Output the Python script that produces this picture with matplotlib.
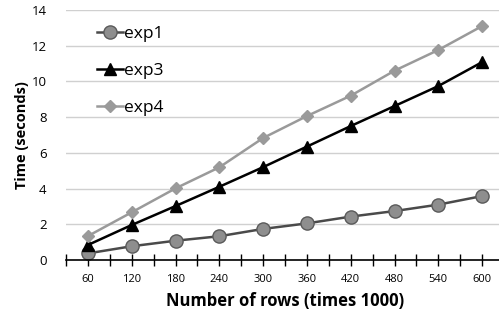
import numpy as np
import matplotlib.pyplot as plt

plt.rcParams['font.family'] = ['Open Sans', 'DejaVu Sans']

rows = ['60', '120', '180', '240', '300', '360', '420', '480', '540', '600']
exp1 = [0.37, 0.77, 1.08, 1.33, 1.74, 2.05, 2.43, 2.74, 3.1, 3.58]
exp3 = [0.84, 1.96, 3.02, 4.1, 5.2, 6.35, 7.5, 8.62, 9.74, 11.08]
exp4 = [1.34, 2.67, 4.01, 5.19, 6.83, 8.06, 9.2, 10.6, 11.76, 13.1]

x = np.arange(len(rows))

fig = plt.figure(figsize=(4.99, 3.14), dpi=100)
ax = fig.add_axes([66 / 499, 54 / 314, 438 / 499, 250 / 314])

ax.plot(x, exp1, color='#4a4a4a', lw=1.8, marker='o', ms=9.5,
        mfc='#8e8e8e', mec='#5a5a5a', mew=1, label='exp1')
ax.plot(x, exp3, color='black', lw=1.8, marker='^', ms=9,
        mfc='black', mec='black', label='exp3')
ax.plot(x, exp4, color='#9a9a9a', lw=1.8, marker='D', ms=6.5,
        mfc='#9a9a9a', mec='#9a9a9a', label='exp4')

ax.set_xlim(-0.5, 9.5)
ax.set_ylim(0, 14)
ax.set_yticks(range(0, 15, 2))
ax.set_xticks(x)
ax.set_xticklabels(rows)
ax.set_xticks(np.arange(-0.5, 10, 1), minor=True)
ax.grid(axis='y', color='#d0d0d0', lw=1)
ax.set_axisbelow(True)

for s in ['top', 'right', 'left']:
    ax.spines[s].set_visible(False)
ax.spines['bottom'].set_linewidth(1.2)
ax.tick_params(axis='y', length=0, labelsize=9.5, pad=14)
ax.tick_params(axis='x', which='both', direction='inout', length=8,
               width=1, labelsize=8, pad=6)

ax.set_xlabel('Number of rows (times 1000)', fontsize=12, fontweight='bold', labelpad=5)
ax.set_ylabel('Time (seconds)', fontsize=10.5, fontweight='bold', labelpad=2)

ax.legend(loc='upper left', bbox_to_anchor=(0.035, 1.0), frameon=False,
          fontsize=12.5, handlelength=1.5, handletextpad=0.05, labelspacing=1.2)

fig.savefig('out.png', dpi=100)
